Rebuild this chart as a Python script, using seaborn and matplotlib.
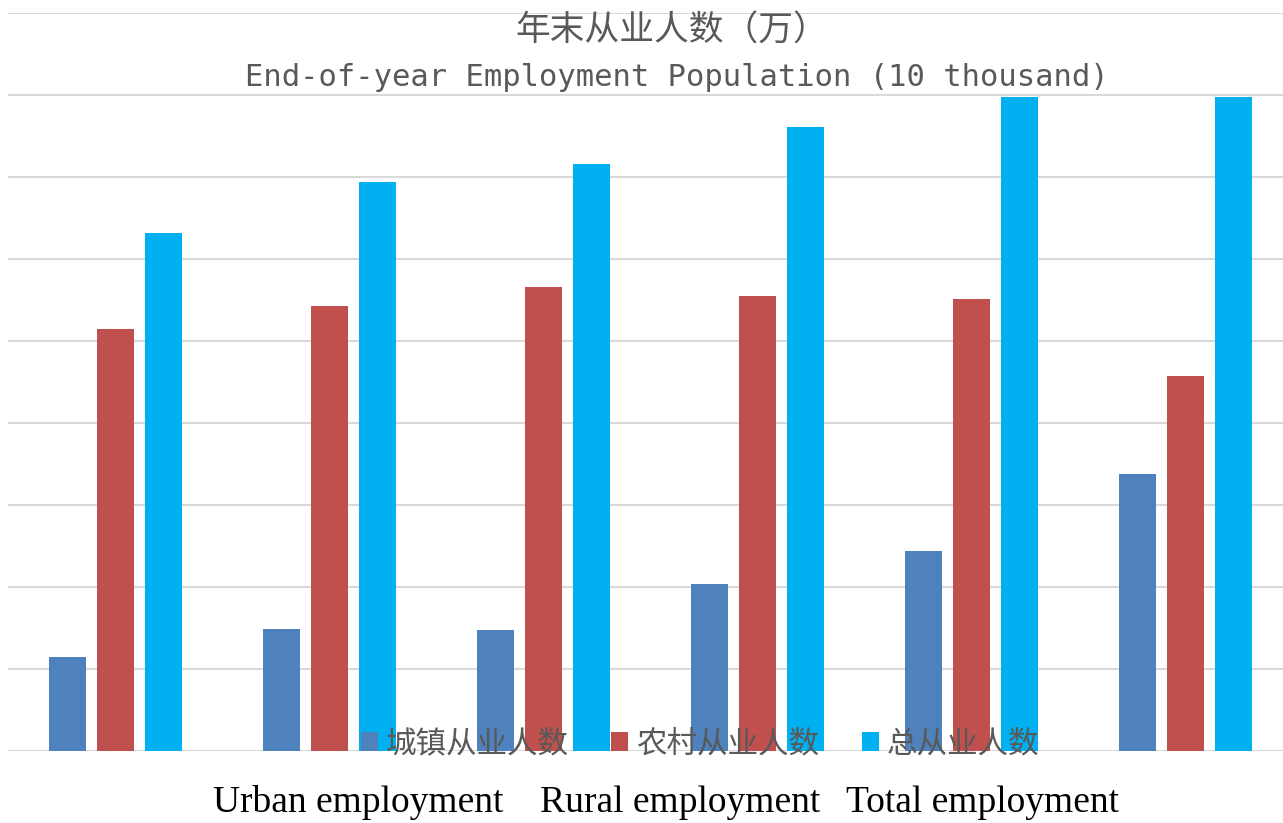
import matplotlib

matplotlib.use("Agg")
import matplotlib.pyplot as plt
import pandas as pd
import seaborn as sns

# values (gridline step = 1000, no tick labels shown)
GROUPS = ["1", "2", "3", "4", "5", "6"]
SERIES = ["城镇从业人数", "农村从业人数", "总从业人数"]
URBAN = [1146, 1488, 1476, 2037, 2439, 3378]
RURAL = [5146, 5427, 5659, 5549, 5512, 4573]
TOTAL = [6317, 6939, 7159, 7610, 7976, 7976]
COLORS = ["#4F81BD", "#C0504D", "#00B0F0"]
BOTTOM_LABELS = ["Urban employment", "Rural employment", "Total employment"]

df = pd.DataFrame({
    "group": GROUPS * 3,
    "series": [s for s in SERIES for _ in GROUPS],
    "value": URBAN + RURAL + TOTAL,
})

sns.set_theme(style="white")
plt.rcParams["font.family"] = ["Noto Sans CJK SC", "DejaVu Sans"]

W, H = 1283, 823
fig = plt.figure(figsize=(W / 100, H / 100), dpi=100)
ax = fig.add_axes([8 / W, (H - 751) / H, 1285 / W, 738 / H])

sns.barplot(data=df, x="group", y="value", hue="series", hue_order=SERIES,
            palette=COLORS, width=0.673, gap=0.23, ax=ax, saturation=1.0,
            linewidth=0, edgecolor="none")

ax.set_xlim(-0.5, 5.5)
ax.set_ylim(0, 9000)
ax.set_yticks(range(0, 9001, 1000))
ax.yaxis.grid(True, color="#d9d9d9", lw=1.5)
ax.axhline(0, color="#d0d0d0", lw=2.2, zorder=0.5)
ax.set_axisbelow(True)
for s in ax.spines.values():
    s.set_visible(False)
ax.set_xticks([])
ax.set_yticklabels([])
ax.tick_params(left=False, bottom=False)
ax.set_xlabel("")
ax.set_ylabel("")

handles, labels = ax.get_legend_handles_labels()
ax.legend(handles, labels, ncol=3, frameon=False, loc="center",
          bbox_to_anchor=(700 / W, (H - 744) / H), bbox_transform=fig.transFigure,
          fontsize=22, labelcolor="#595959", handlelength=0.55, handleheight=0.55,
          handletextpad=0.26, columnspacing=1.4)

fig.text(672 / W, 1 - 31 / H, "年末从业人数（万）", ha="center", va="center",
         fontsize=25, color="#595959", family=["Noto Sans CJK SC", "DejaVu Sans"])
fig.text(677 / W, 1 - 78 / H, "End-of-year Employment Population (10 thousand)",
         ha="center", va="center", fontsize=22, color="#595959",
         family="DejaVu Sans Mono")

for x, lab in zip([358, 680, 982], BOTTOM_LABELS):
    fig.text(x / W, 1 - 803 / H, lab, ha="center", va="center", fontsize=27,
             color="black", family="Liberation Serif")

fig.savefig("out.png", dpi=100)
